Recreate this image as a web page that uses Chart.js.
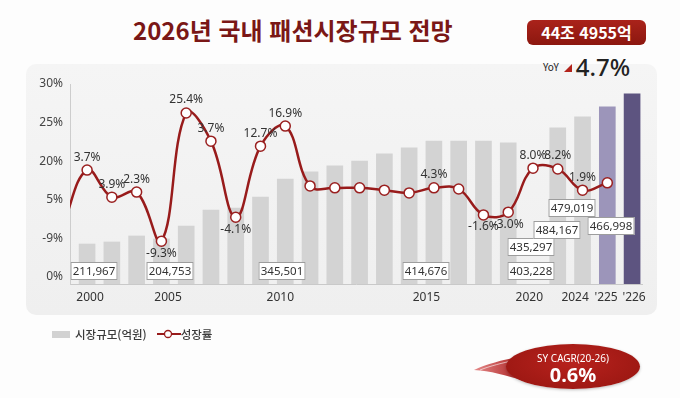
<!DOCTYPE html>
<html lang="ko">
<head>
<meta charset="utf-8">
<title>2026년 국내 패션시장규모 전망</title>
<script src="https://cdn.jsdelivr.net/npm/chart.js@4.4.1/dist/chart.umd.min.js"></script>
<style>
  html, body { margin: 0; padding: 0; background: #fdfdfd; }
  body { width: 680px; height: 398px; position: relative; overflow: hidden;
         font-family: "Noto Sans CJK KR", "Noto Sans", sans-serif; }
  .panel { position: absolute; left: 26px; top: 64px; width: 631px; height: 251px;
           border-radius: 10px; background: linear-gradient(#f5f5f5, #efefef); }
  #chart { position: absolute; left: 0; top: 0; }
  .title { position: absolute; left: 133px; top: 15px; line-height: 30px; font-size: 24px;
           font-weight: 700; color: #7a1716; white-space: nowrap; }
  .badge { position: absolute; left: 527px; top: 20px; width: 119px; height: 25px; border-radius: 6px;
           background: linear-gradient(#aa231b, #8c170f); color: #fff; font-size: 16px; font-weight: 700;
           line-height: 25px; text-align: center; white-space: nowrap; }
  .yoy { position: absolute; left: 543px; top: 53px; height: 26px; display: flex; align-items: center;
         white-space: nowrap; color: #222; }
  .yoy .k { font-size: 10px; margin-right: 5px; }
  .yoy .tri { width: 0; height: 0; border-left: 8px solid transparent; border-bottom: 8px solid #b3231b;
              margin-right: 4px; margin-top: 3px; }
  .yoy .v { font-family: "Noto Sans", sans-serif; font-size: 24px; font-weight: 500; }
  .legend { position: absolute; left: 52px; top: 325px; height: 18px; display: flex; align-items: center;
            font-size: 11.5px; font-weight: 500; color: #3a3a3a; white-space: nowrap; }
  .legend .sw { width: 18px; height: 7px; background: #d2d2d2; margin-right: 5px; }
  .legend svg { margin-left: 10px; }
  .bubble-tail { position: absolute; left: 460px; top: 330px; }
  .bubble { position: absolute; left: 506px; top: 344px; width: 134px; height: 45px; border-radius: 50%;
            background: radial-gradient(ellipse at 50% 40%, #b8221d, #951510); color: #fff; text-align: center;
            box-shadow: 0 1px 3px rgba(0,0,0,0.25); }
  .bubble .k { font-family: "Noto Sans", sans-serif; font-size: 10px; line-height: 12px; margin-top: 8px; }
  .bubble .v { font-family: "Noto Sans", sans-serif; font-size: 20px; font-weight: 700; line-height: 22px; }
</style>
</head>
<body>
<div class="panel"></div>
<div class="title">2026년 국내 패션시장규모 전망</div>
<div class="badge">44조 4955억</div>
<div class="yoy"><span class="k">YoY</span><span class="tri"></span><span class="v">4.7%</span></div>
<canvas id="chart" width="680" height="398"></canvas>
<div class="legend">
  <span class="sw"></span><span>시장규모(억원)</span>
  <svg width="24" height="10"><line x1="0" y1="5" x2="24" y2="5" stroke="#981b1b" stroke-width="2"/><circle cx="11" cy="5" r="3.5" fill="#fff" stroke="#981b1b" stroke-width="1.3"/></svg><span>성장률</span>
</div>
<svg class="bubble-tail" width="200" height="70">
  <defs>
    <linearGradient id="tailg" x1="0" x2="1" y1="0" y2="0">
      <stop offset="0" stop-color="#e58a8a"/>
      <stop offset="1" stop-color="#a81a1a"/>
    </linearGradient>
  </defs>
  <path d="M 58 27 C 42 30, 27 34, 14 40 C 30 41, 46 45, 64 51 Z" fill="url(#tailg)"/>
  <path d="M 56 30 C 42 33, 30 36, 20 40" stroke="#fff" stroke-opacity="0.6" stroke-width="1" fill="none"/>
</svg>
<div class="bubble"><div class="k">SY CAGR(20-26)</div><div class="v">0.6%</div></div>

<script>
// x tick labels as printed, and the bar slot each one sits under
var xLabels = ['2000', '2005', '2010', '2015', '2020', '2024', "'225", "'226"];
var xLabelSlots = [0.12, 3.27, 7.8, 13.7, 17.85, 19.7, 20.95, 22.08];
// y axis tick labels, evenly spaced as printed
var yLabels = ['0%', '-9%', '5%', '20%', '25%', '30%'];

// market size bars (억원); no bar drawn at the 2020 slot
var sizeValues = [94600, 99400, 113600, 106500, 137200, 175100, 179800, 205800, 248400, 265000, 279200,
                  291000, 307600, 321800, 338300, 338300, 338300, 333600, null, 369100, 395100, 418800, 449550];

// growth line, read against the printed y axis (0 = "0%", 5 = "30%"); first value is the lead-in before 2000
var growthLevel = [1.3, 2.77, 2.07, 2.20, 0.93, 4.25, 3.52, 1.55, 3.39, 3.91, 2.36, 2.31, 2.31, 2.25, 2.18,
                   2.31, 2.28, 1.61, 1.68, 2.82, 2.80, 2.25, 2.44];
var growthLabels = [null, '3.7%', '3.9%', '2.3%', '-9.3%', '25.4%', '3.7%', '-4.1%', '12.7%', '16.9%', null,
                    null, null, null, null, '4.3%', null, '-1.6%', '-3.0%', '8.0%', '8.2%', '1.9%', null];

// boxed market size notes
var sizeNotes = ['211,967', '204,753', '345,501', '414,676', '403,228', '435,297', '484,167', '479,019', '466,998'];
// where each note sits: [x slot, y level]
var noteAnchors = [[0.28, 0.15], [3.33, 0.15], [7.87, 0.15], [13.69, 0.15], [17.93, 0.15],
                   [17.93, 0.79], [18.97, 1.22], [19.58, 1.79], [21.15, 1.32]];

var barData = [];
sizeValues.forEach(function(v, i) { if (v !== null) barData.push({x: i, y: v}); });
var lineData = growthLevel.map(function(v, i) { return {x: i - 1, y: v}; });

function barColor(c) {
  var i = c.raw ? c.raw.x : 0;
  if (i === sizeValues.length - 1) return '#5d5480';
  if (i === sizeValues.length - 2) return '#9c95ba';
  return '#d3d3d3';
}

var notesPlugin = {
  id: 'notes',
  afterDatasetsDraw: function(chart) {
    var ctx = chart.ctx, xs = chart.scales.x, ys = chart.scales.y;
    ctx.save();
    ctx.font = '11.5px "Noto Sans", sans-serif';
    ctx.textAlign = 'center';
    ctx.textBaseline = 'middle';
    sizeNotes.forEach(function(t, k) {
      var cx = Math.round(xs.getPixelForValue(noteAnchors[k][0]));
      var cy = Math.round(ys.getPixelForValue(noteAnchors[k][1]));
      var w = 47, h = 18;
      ctx.fillStyle = '#fff';
      ctx.fillRect(cx - w / 2, cy - h / 2, w, h);
      ctx.strokeStyle = '#9d9d9d';
      ctx.lineWidth = 1;
      ctx.strokeRect(cx - w / 2 + 0.5, cy - h / 2 + 0.5, w - 1, h - 1);
      ctx.fillStyle = '#333';
      ctx.fillText(t, cx, cy + 0.5);
    });
    var meta = chart.getDatasetMeta(1);
    ctx.font = '12px "Noto Sans", sans-serif';
    ctx.fillStyle = '#333';
    meta.data.forEach(function(pt, i) {
      var t = growthLabels[i];
      if (!t) return;
      var below = growthLevel[i] < 2;
      ctx.fillText(t, pt.x, pt.y + (below ? 12 : -13));
    });
    ctx.restore();
  }
};

new Chart(document.getElementById('chart'), {
  type: 'bar',
  data: {
    datasets: [{
      type: 'bar',
      label: '시장규모(억원)',
      data: barData,
      yAxisID: 'y2',
      backgroundColor: barColor,
      barThickness: 16,
      order: 2
    }, {
      type: 'line',
      label: '성장률',
      data: lineData,
      yAxisID: 'y',
      borderColor: '#981b1b',
      borderWidth: 2.5,
      tension: 0.4,
      pointRadius: function(c) { return c.dataIndex === 0 ? 0 : 5; },
      pointBackgroundColor: '#fff',
      pointBorderColor: '#9a2020',
      pointBorderWidth: 1.5,
      clip: {left: 0, top: false, right: false, bottom: false},
      order: 1
    }]
  },
  options: {
    responsive: false,
    devicePixelRatio: 1,
    animation: false,
    layout: { padding: { left: 0, right: 38, top: 84, bottom: 0 } },
    plugins: { legend: { display: false }, tooltip: { enabled: false } },
    scales: {
      x: {
        type: 'linear',
        offset: false,
        min: -0.69,
        max: 22.4,
        afterBuildTicks: function(s) { s.ticks = xLabelSlots.map(function(v) { return {value: v}; }); },
        afterFit: function(s) { s.height = 114; },
        grid: { display: false, drawTicks: false },
        border: { color: '#c9c9c9', width: 1 },
        ticks: {
          autoSkip: false, maxRotation: 0, padding: 6, color: '#333',
          font: { family: '"Noto Sans", sans-serif', size: 12 },
          callback: function(v, i) { return xLabels[i]; }
        }
      },
      y: {
        min: -0.18,
        max: 5,
        afterBuildTicks: function(s) { s.ticks = yLabels.map(function(_, i) { return {value: i}; }); },
        afterFit: function(s) { s.width = 70; },
        grid: { display: false, drawTicks: false },
        border: { color: '#cdcdcd', width: 1 },
        ticks: {
          padding: 7, color: '#444',
          font: { family: '"Noto Sans", sans-serif', size: 12 },
          callback: function(v, i) { return yLabels[i]; }
        }
      },
      y2: { display: false, min: 0, max: 473000 }
    }
  },
  plugins: [notesPlugin]
});
</script>
</body>
</html>
